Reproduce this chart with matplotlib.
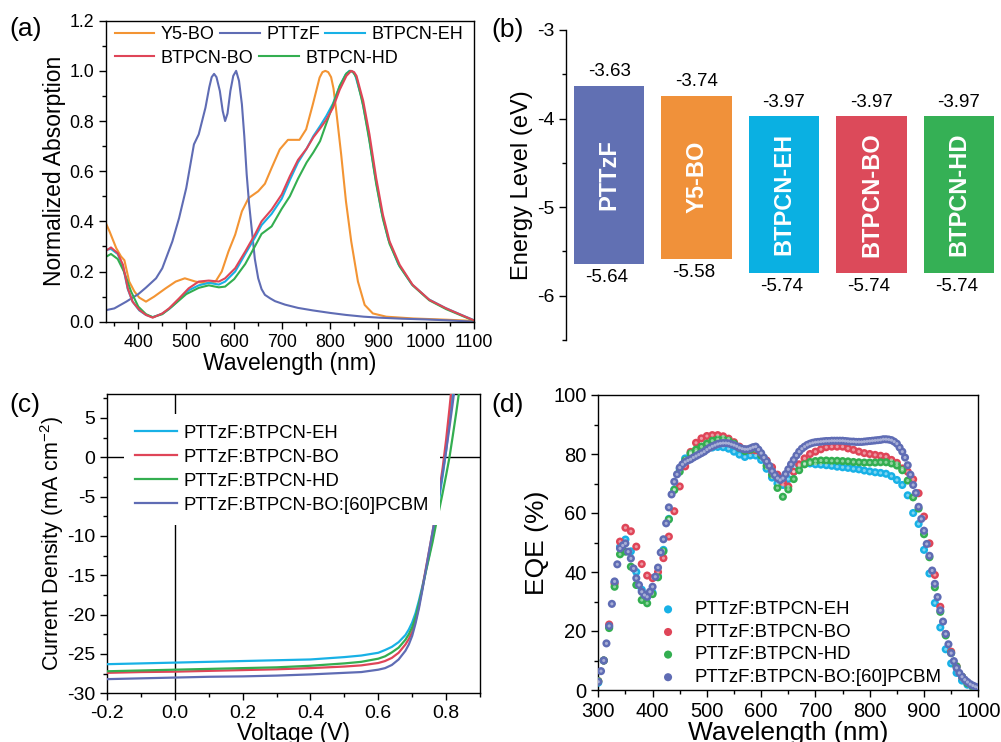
import numpy as np
import matplotlib
matplotlib.use("Agg")
import matplotlib.pyplot as plt
from matplotlib.ticker import MultipleLocator, FormatStrFormatter

plt.rcParams['font.family'] = ['Liberation Sans', 'DejaVu Sans']
plt.rcParams['mathtext.fontset'] = 'custom'
plt.rcParams['mathtext.rm'] = 'Liberation Sans'
plt.rcParams['axes.unicode_minus'] = False

# ---------------- colours ----------------
C_Y5 = '#F39433'
C_PT = '#5F6CB4'
C_EH = '#18B1E6'
C_BO = '#DF4558'
C_HD = '#33AE50'

# ---------------- (a) absorption ----------------
wl_pt = [330, 350, 375, 400, 416, 437, 450, 471, 485, 500, 516, 526, 540, 548, 553, 558, 563, 570, 576, 581, 586, 592,
         598, 604, 610, 616, 621, 626, 631, 637, 643, 650, 657, 664, 675, 685, 706, 733, 764, 800, 833, 870, 903, 950,
         1000, 1050, 1100]
abs_pt = [0.045, 0.053, 0.08, 0.11, 0.136, 0.173, 0.213, 0.32, 0.413, 0.533, 0.707, 0.747, 0.853, 0.935, 0.975, 0.988,
          0.975, 0.92, 0.84, 0.80, 0.83, 0.92, 0.98, 1.0, 0.96, 0.867, 0.74, 0.587, 0.47, 0.36, 0.25, 0.173, 0.13,
          0.107, 0.093, 0.082, 0.068, 0.055, 0.045, 0.035, 0.027, 0.02, 0.016, 0.012, 0.009, 0.005, 0.0]

wl_y5 = [330, 340, 354, 364, 371, 381, 392, 402, 416, 433, 457, 478, 497, 519, 540, 561, 574, 588, 602, 616, 630, 650,
         664, 678, 695, 712, 736, 750, 764, 778, 784, 790, 796, 802, 807, 812, 823, 833, 844, 858, 872, 889, 917, 972,
         1042, 1100]
abs_y5 = [0.403, 0.36, 0.293, 0.26, 0.245, 0.16, 0.12, 0.096, 0.08, 0.1, 0.133, 0.16, 0.173, 0.16, 0.153, 0.16, 0.2,
          0.28, 0.347, 0.44, 0.493, 0.52, 0.55, 0.613, 0.687, 0.725, 0.725, 0.767, 0.867, 0.973, 0.995, 1.0, 0.995,
          0.975, 0.93, 0.853, 0.667, 0.48, 0.32, 0.16, 0.067, 0.033, 0.02, 0.013, 0.008, 0.003]

wl_eh = [330, 343, 357, 368, 378, 388, 402, 416, 430, 450, 464, 485, 505, 526, 547, 568, 581, 602, 623, 643, 657, 678,
         699, 716, 733, 751, 765, 779, 792, 806, 820, 832, 840, 846, 852, 866, 879, 893, 907, 921, 942, 970, 1005, 1040,
         1075, 1100]
abs_eh = [0.285, 0.29, 0.27, 0.22, 0.13, 0.08, 0.045, 0.027, 0.018, 0.032, 0.05, 0.088, 0.125, 0.145, 0.155, 0.148,
          0.16, 0.2, 0.27, 0.335, 0.385, 0.43, 0.49, 0.565, 0.635, 0.69, 0.74, 0.78, 0.82, 0.87, 0.94, 0.985, 1.0,
          0.998, 0.985, 0.89, 0.76, 0.59, 0.44, 0.33, 0.23, 0.15, 0.09, 0.055, 0.026, 0.006]

wl_bo = [330, 343, 357, 368, 378, 388, 402, 416, 430, 450, 464, 485, 505, 526, 547, 568, 581, 602, 623, 643, 657, 678,
         699, 716, 733, 751, 765, 779, 792, 806, 820, 834, 844, 850, 855, 869, 882, 896, 910, 924, 945, 972, 1007, 1042,
         1077, 1100]
abs_bo = [0.28, 0.296, 0.273, 0.227, 0.133, 0.08, 0.047, 0.027, 0.016, 0.033, 0.053, 0.093, 0.133, 0.16, 0.164, 0.16,
          0.173, 0.213, 0.28, 0.347, 0.4, 0.447, 0.507, 0.58, 0.645, 0.69, 0.735, 0.77, 0.805, 0.853, 0.925, 0.98, 1.0,
          0.995, 0.98, 0.88, 0.747, 0.573, 0.427, 0.32, 0.227, 0.147, 0.087, 0.053, 0.024, 0.005]

wl_hd = [330, 343, 357, 370, 385, 400, 416, 430, 450, 470, 500, 526, 547, 568, 581, 600, 623, 643, 657, 678, 699, 716,
         733, 751, 765, 779, 792, 806, 820, 834, 842, 848, 855, 869, 882, 896, 910, 924, 945, 972, 1007, 1042, 1077,
         1100]
abs_hd = [0.256, 0.27, 0.25, 0.2, 0.12, 0.06, 0.03, 0.018, 0.03, 0.06, 0.11, 0.135, 0.145, 0.137, 0.14, 0.17, 0.23, 0.3,
          0.35, 0.38, 0.45, 0.5, 0.57, 0.635, 0.675, 0.72, 0.79, 0.865, 0.94, 0.99, 1.0, 0.995, 0.973, 0.86, 0.72,
          0.55, 0.41, 0.31, 0.22, 0.145, 0.085, 0.05, 0.022, 0.004]

# ---------------- (b) energy levels ----------------
materials = ['PTTzF', 'Y5-BO', 'BTPCN-EH', 'BTPCN-BO', 'BTPCN-HD']
lumo = [-3.63, -3.74, -3.97, -3.97, -3.97]
homo = [-5.64, -5.58, -5.74, -5.74, -5.74]
bar_colors = ['#6170B3', '#F0913A', '#0AB0E2', '#DC4A5A', '#35B055']

# ---------------- (c) J-V ----------------
v_jv = [-0.2, -0.1, 0.0, 0.1, 0.2, 0.3, 0.4, 0.5, 0.55, 0.6, 0.62, 0.64, 0.66, 0.68, 0.69, 0.70, 0.71, 0.72, 0.73,
        0.74, 0.75, 0.76, 0.77, 0.78, 0.79, 0.80, 0.81, 0.82, 0.83, 0.84]
j_eh = [-26.3, -26.2, -26.1, -26.0, -25.9, -25.8, -25.7, -25.4, -25.2, -24.85, -24.5, -24.1, -23.5, -22.6, -21.9,
        -21.0, -19.8, -18.2, -16.4, -14.5, -12.5, -10.2, -7.8, -5.2, -2.3, 0.8, 4.6, 8.8, 13.0, 17.0]
j_bo = [-27.4, -27.3, -27.25, -27.15, -27.05, -26.95, -26.8, -26.6, -26.45, -26.15, -25.9, -25.5, -24.85, -23.8, -23.1,
        -22.2, -20.8, -18.9, -16.6, -14.2, -11.9, -9.5, -7.0, -4.3, -1.3, 2.2, 6.2, 10.5, 15.0, 19.0]
j_hd = [-27.2, -27.1, -27.0, -26.9, -26.8, -26.7, -26.5, -26.2, -26.0, -25.6, -25.3, -24.8, -24.2, -23.2, -22.5, -21.6,
        -20.3, -18.6, -16.7, -14.6, -12.7, -10.8, -8.6, -6.6, -4.5, -2.3, 0.0, 2.8, 5.7, 8.8]
j_pc = [-28.2, -28.1, -28.0, -27.9, -27.85, -27.75, -27.6, -27.4, -27.3, -27.0, -26.8, -26.4, -25.7, -24.6, -23.8,
        -22.7, -21.1, -19.2, -16.9, -14.4, -11.9, -9.5, -7.1, -4.6, -2.0, 0.8, 3.8, 7.0, 10.4, 14.0]

# ---------------- (d) EQE ----------------
wl_eqe5 = np.arange(300, 1001, 5)
wl_eqe10 = np.arange(300, 1001, 10)
eqe_pc = [2.8, 6.4, 10.0, 15.8, 21.7, 29.2, 36.8, 42.6, 48.0, 49.0,
          49.7, 46.9, 44.6, 41.2, 37.9, 35.6, 33.3, 32.2, 31.6, 33.3,
          35.0, 38.4, 41.5, 46.6, 51.1, 56.5, 61.9, 66.3, 70.6, 73.1,
          75.4, 76.5, 77.3, 77.8, 78.2, 78.8, 79.3, 79.8, 80.3, 80.8,
          81.5, 82.1, 82.6, 83.0, 83.4, 83.6, 83.7, 83.7, 83.6, 83.3,
          83.0, 82.6, 82.1, 81.8, 81.6, 81.6, 81.9, 82.3, 82.5, 81.5,
          80.3, 78.8, 77.5, 76.0, 74.2, 72.9, 71.8, 71.2, 71.8, 73.2,
          74.8, 76.5, 78.0, 79.5, 80.8, 81.8, 82.5, 83.1, 83.5, 83.8,
          84.0, 84.1, 84.2, 84.3, 84.4, 84.4, 84.5, 84.5, 84.5, 84.5,
          84.5, 84.4, 84.3, 84.2, 84.2, 84.1, 84.1, 84.1, 84.2, 84.3,
          84.4, 84.5, 84.6, 84.7, 84.8, 85.0, 85.0, 84.9, 84.7, 84.2,
          83.5, 82.2, 80.8, 78.8, 76.2, 73.0, 69.5, 66.8, 62.1, 58.0,
          54.0, 49.5, 45.5, 40.5, 36.0, 31.5, 27.0, 23.2, 19.0, 15.5,
          12.5, 9.8, 7.5, 5.8, 4.5, 3.5, 2.7, 2.0, 1.5, 1.1,
          0.8]
eqe_bo = [3.0, 10.0, 22.2, 36.0, 50.3, 55.0, 53.8, 48.6, 42.7, 38.8,
          37.9, 40.0, 44.7, 52.0, 60.6, 69.0, 75.8, 80.7, 83.8, 85.3,
          86.1, 86.4, 86.4, 86.0, 85.2, 84.0, 82.5, 81.5, 81.3, 81.2,
          79.8, 77.8, 75.5, 73.0, 70.5, 69.0, 74.0, 76.5, 78.5, 80.0,
          80.8, 81.6, 82.3, 82.5, 82.5, 82.5, 81.9, 81.4, 80.8, 80.3,
          80.0, 79.7, 79.4, 79.1, 78.0, 77.0, 75.1, 74.0, 71.4, 66.7,
          58.8, 49.7, 39.0, 28.2, 19.0, 13.0, 8.0, 4.5, 2.5, 1.2,
          0.5]
eqe_hd = [3.0, 10.0, 21.0, 35.0, 46.0, 46.9, 41.8, 35.6, 30.5, 29.4,
          32.5, 38.2, 47.0, 57.8, 67.8, 74.0, 77.8, 80.2, 81.5, 82.5,
          83.5, 84.5, 85.0, 85.0, 84.5, 83.5, 82.0, 81.0, 81.5, 81.8,
          79.5, 76.0, 73.0, 68.5, 65.5, 68.0, 71.5, 74.5, 76.5, 77.3,
          77.6, 77.8, 77.8, 77.7, 77.7, 77.6, 77.5, 77.3, 77.2, 77.1,
          77.1, 77.1, 77.2, 77.2, 76.8, 76.1, 74.5, 71.0, 65.3, 61.5,
          52.8, 45.0, 34.8, 26.5, 18.5, 12.5, 8.0, 4.5, 2.3, 1.2,
          0.5]
eqe_eh = [2.5, 10.0, 21.5, 36.5, 48.5, 51.0, 47.0, 40.0, 34.0, 31.5,
          33.0, 38.5, 47.5, 58.0, 68.0, 75.0, 78.5, 80.0, 80.8, 81.3,
          81.8, 82.2, 82.4, 82.3, 81.8, 80.8, 79.8, 79.0, 79.5, 79.5,
          78.0, 75.0, 72.0, 70.0, 69.5, 71.5, 74.0, 76.0, 76.8, 76.8,
          76.5, 76.4, 76.2, 76.0, 75.7, 75.5, 75.3, 75.0, 74.8, 74.4,
          74.1, 73.8, 73.6, 73.3, 72.5, 71.2, 69.5, 66.0, 60.0, 56.3,
          47.5, 39.5, 29.5, 21.2, 13.8, 9.0, 5.8, 3.2, 1.8, 0.8,
          0.3]

W, H = 1001, 742
fig = plt.figure(figsize=(W / 100, H / 100), dpi=100)


def box(l, r, t, b):
    return [l / W, 1 - b / H, (r - l) / W, (b - t) / H]


def style_ax(ax, size):
    ax.tick_params(which='both', direction='out', top=False, right=False, labelsize=size, width=1.0, color='black')
    ax.tick_params(which='major', length=5)
    ax.tick_params(which='minor', length=3)
    for s in ax.spines.values():
        s.set_linewidth(1.0)


# ---- (a)
axa = fig.add_axes(box(105.7, 474, 20.7, 321.7))
lw = 1.5
la_y5, = axa.plot(wl_y5, abs_y5, color=C_Y5, lw=lw, label='Y5-BO')
la_pt, = axa.plot(wl_pt, abs_pt, color=C_PT, lw=lw, label='PTTzF')
la_eh, = axa.plot(wl_eh, abs_eh, color=C_EH, lw=lw, label='BTPCN-EH')
la_hd, = axa.plot(wl_hd, abs_hd, color=C_HD, lw=lw, label='BTPCN-HD')
la_bo, = axa.plot(wl_bo, abs_bo, color=C_BO, lw=lw, label='BTPCN-BO')
axa.set_xlim(332, 1100)
axa.set_ylim(0, 1.2)
axa.xaxis.set_major_locator(MultipleLocator(100))
axa.xaxis.set_minor_locator(MultipleLocator(50))
axa.yaxis.set_major_locator(MultipleLocator(0.2))
axa.yaxis.set_minor_locator(MultipleLocator(0.1))
axa.yaxis.set_major_formatter(FormatStrFormatter('%.1f'))
style_ax(axa, 12.8)
axa.set_xlabel('Wavelength (nm)', fontsize=16.5, labelpad=1)
axa.set_ylabel('Normalized Absorption', fontsize=16.5)
axa.yaxis.set_label_coords((66 - 105.7) / 368.3, 0.5)
leg_kw = dict(loc='upper left', frameon=False, fontsize=13, handlelength=2.2, handletextpad=0.35,
              columnspacing=0.3, borderaxespad=0.0)
leg1 = axa.legend(handles=[la_y5, la_pt, la_eh], bbox_to_anchor=(0.005, 1.005), ncol=3, **leg_kw)
axa.add_artist(leg1)
axa.legend(handles=[la_bo, la_hd], bbox_to_anchor=(0.005, 0.928), ncol=2, **leg_kw)

# ---- (b)
axb = fig.add_axes(box(566, 1000, 30, 340))
xpos = np.arange(len(materials))
axb.bar(xpos, np.array(homo) - np.array(lumo), bottom=lumo, width=0.805, color=bar_colors)
for i, m in enumerate(materials):
    axb.text(xpos[i], lumo[i] + 0.06, f'{lumo[i]:.2f}', ha='center', va='bottom', fontsize=13.5)
    axb.text(xpos[i] - 0.03, homo[i] - 0.06, f'{homo[i]:.2f}', ha='center', va='top', fontsize=13.5)
    axb.text(xpos[i], (lumo[i] + homo[i]) / 2, m, rotation=90, ha='center', va='center', color='white',
             fontsize=17, fontweight='bold')
axb.set_xlim(-0.494, 4.47)
axb.set_ylim(-6.5, -3)
axb.yaxis.set_major_locator(MultipleLocator(1))
axb.yaxis.set_minor_locator(MultipleLocator(0.5))
axb.yaxis.set_major_formatter(FormatStrFormatter('%d'))
for s in ['top', 'right', 'bottom']:
    axb.spines[s].set_visible(False)
axb.set_xticks([])
style_ax(axb, 14)
axb.set_ylabel('Energy Level (eV)', fontsize=17)
axb.yaxis.set_label_coords((533 - 566) / 434, 0.5)

# ---- (c)
axc = fig.add_axes(box(107, 480, 394.3, 693.3))
axc.axhline(0, color='black', lw=1.0, zorder=1)
axc.axvline(0, color='black', lw=1.0, zorder=1)
lc_eh, = axc.plot(v_jv, j_eh, color=C_EH, lw=1.6, label='PTTzF:BTPCN-EH', zorder=3)
lc_bo, = axc.plot(v_jv, j_bo, color=C_BO, lw=1.6, label='PTTzF:BTPCN-BO', zorder=3)
lc_hd, = axc.plot(v_jv, j_hd, color=C_HD, lw=1.6, label='PTTzF:BTPCN-HD', zorder=3)
lc_pc, = axc.plot(v_jv, j_pc, color=C_PT, lw=1.6, label='PTTzF:BTPCN-BO:[60]PCBM', zorder=3)
axc.set_xlim(-0.2, 0.9)
axc.set_ylim(-30, 8)
axc.xaxis.set_major_locator(MultipleLocator(0.2))
axc.xaxis.set_minor_locator(MultipleLocator(0.1))
axc.xaxis.set_major_formatter(FormatStrFormatter('%.1f'))
axc.yaxis.set_major_locator(MultipleLocator(5))
axc.yaxis.set_minor_locator(MultipleLocator(2.5))
style_ax(axc, 14)
axc.set_xlabel('Voltage (V)', fontsize=16.5, labelpad=0)
axc.set_ylabel('Current Density (mA cm$^{-2}$)', fontsize=15.5)
axc.yaxis.set_label_coords((66 - 107) / 373, 0.5)
legc = axc.legend(handles=[lc_eh, lc_bo, lc_hd, lc_pc], loc='upper left', bbox_to_anchor=(0.045, 0.935),
                  frameon=True, fontsize=13.3, handlelength=2.3, handletextpad=0.35, borderpad=0.6,
                  borderaxespad=0.0, labelspacing=0.38, fancybox=False)
legc.get_frame().set_edgecolor('none')
legc.get_frame().set_facecolor('white')
legc.get_frame().set_alpha(1.0)

# ---- (d)
axd = fig.add_axes(box(598.3, 978.3, 395, 690))
ms = 34
sd_eh = axd.scatter(wl_eqe10, eqe_eh, s=ms, color=C_EH, edgecolors='none', label='PTTzF:BTPCN-EH', zorder=3)
sd_bo = axd.scatter(wl_eqe10, eqe_bo, s=ms, color=C_BO, edgecolors='none', label='PTTzF:BTPCN-BO', zorder=3)
sd_hd = axd.scatter(wl_eqe10, eqe_hd, s=ms, color=C_HD, edgecolors='none', label='PTTzF:BTPCN-HD', zorder=3)
sd_pc = axd.scatter(wl_eqe5, eqe_pc, s=ms, color=C_PT, edgecolors='none', label='PTTzF:BTPCN-BO:[60]PCBM', zorder=4)
for sc in (sd_eh, sd_bo, sd_hd, sd_pc):
    off = sc.get_offsets()
    axd.scatter(off[:, 0], off[:, 1], s=5, color='white', alpha=0.45, edgecolors='none', zorder=sc.get_zorder())
axd.set_xlim(300, 1000)
axd.set_ylim(0, 100)
axd.xaxis.set_major_locator(MultipleLocator(100))
axd.xaxis.set_minor_locator(MultipleLocator(50))
axd.yaxis.set_major_locator(MultipleLocator(20))
axd.yaxis.set_minor_locator(MultipleLocator(10))
style_ax(axd, 14.5)
axd.set_xlabel('Wavelength (nm)', fontsize=19, labelpad=0)
axd.set_ylabel('EQE (%)', fontsize=19)
axd.yaxis.set_label_coords((549 - 598.3) / 380, 0.5)
axd.legend(handles=[sd_eh, sd_bo, sd_hd, sd_pc], loc='lower left', bbox_to_anchor=(0.115, -0.012), frameon=False,
           fontsize=13.4, handletextpad=0.4, labelspacing=0.3, borderaxespad=0.0, markerscale=1.0)

# ---- panel letters
for lab, x, y in [('(a)', 9, 29), ('(b)', 491, 30), ('(c)', 9, 405), ('(d)', 491, 405)]:
    fig.text(x / W, 1 - y / H, lab, fontsize=19, ha='left', va='center')

fig.savefig('out.png', dpi=100)
